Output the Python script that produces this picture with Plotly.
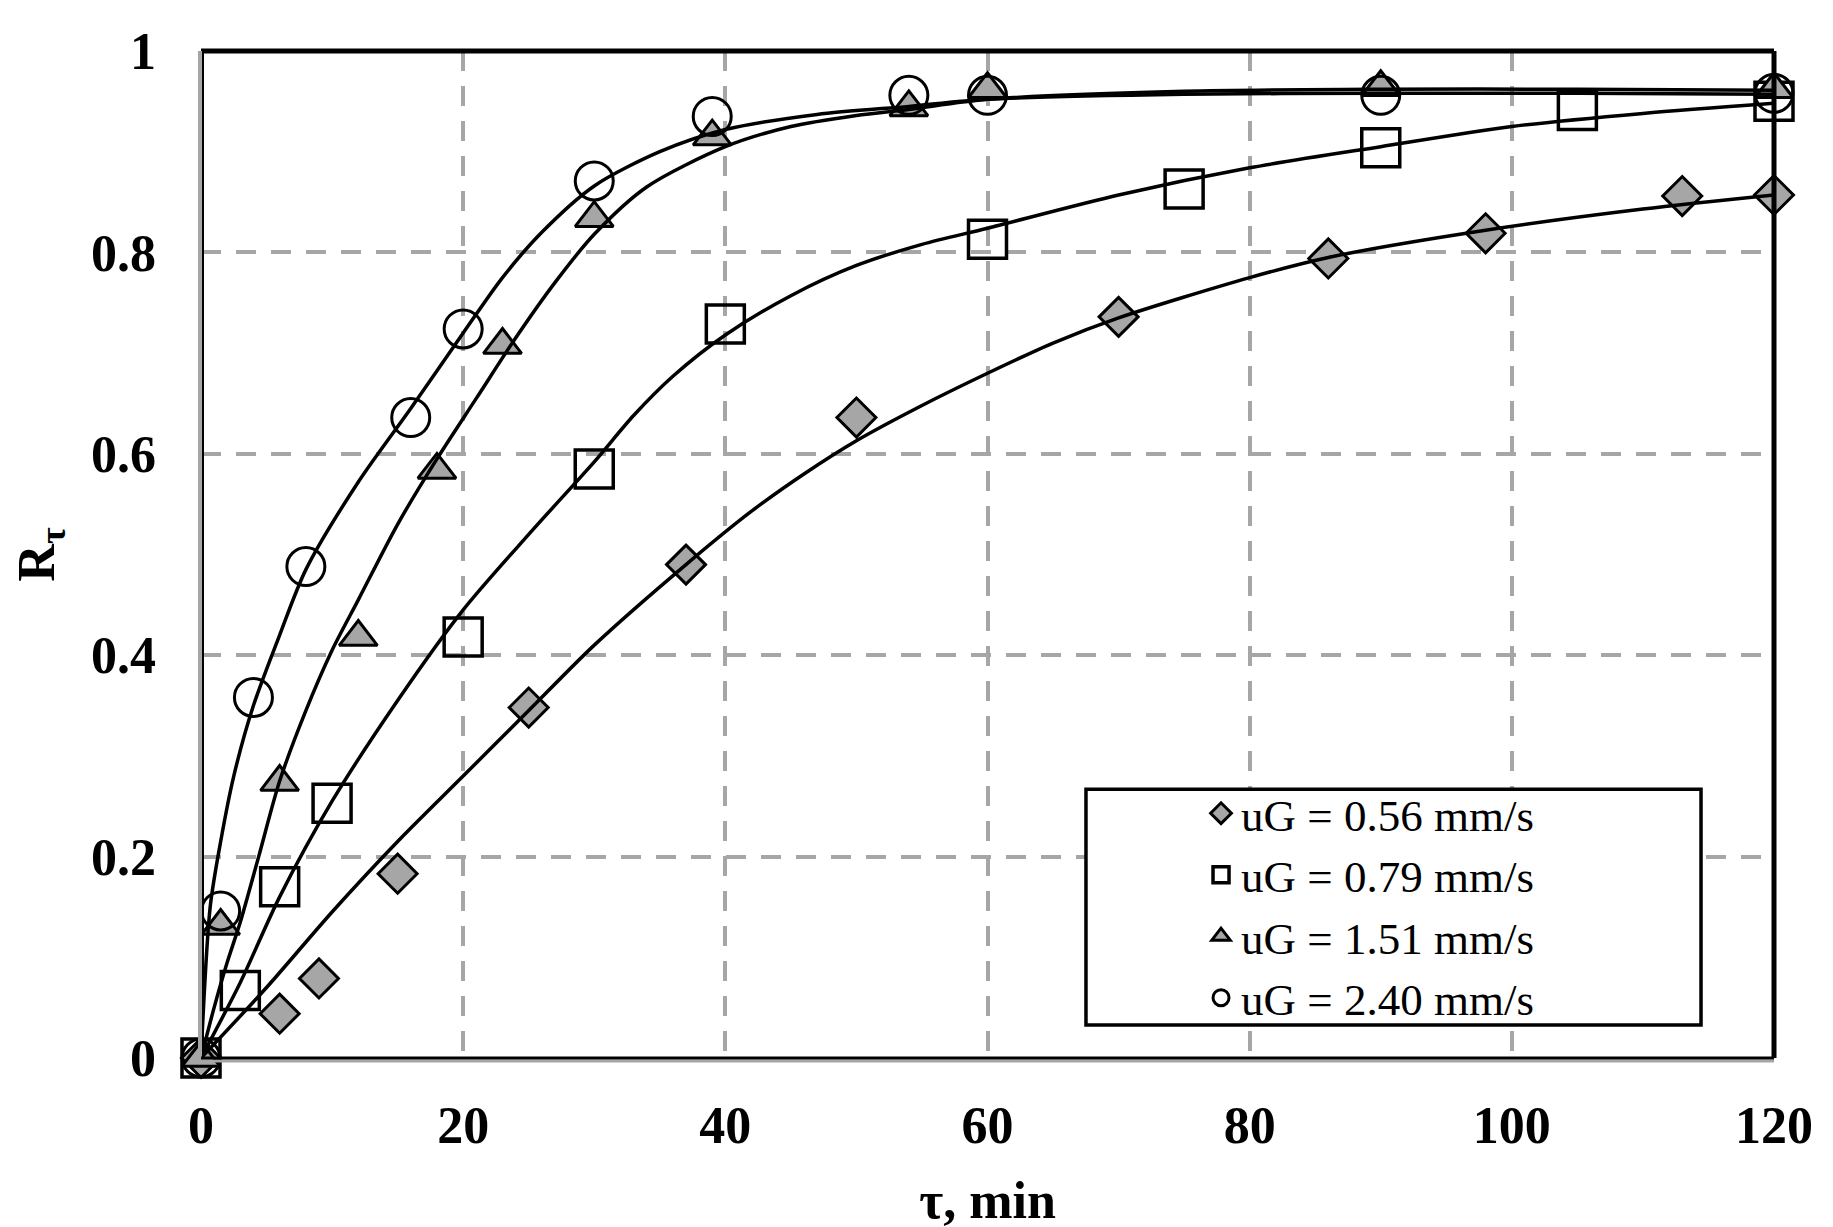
import plotly.graph_objects as go

# ---- measured points ----
t_056 = [0, 6, 9, 15, 25, 37, 50, 70, 86, 98, 113, 120]
r_056 = [0, 0.044, 0.079, 0.183, 0.348, 0.490, 0.636, 0.736, 0.794, 0.819, 0.856, 0.857]

t_079 = [0, 3, 6, 10, 20, 30, 40, 60, 75, 90, 105, 120]
r_079 = [0, 0.067, 0.170, 0.253, 0.418, 0.585, 0.729, 0.813, 0.863, 0.904, 0.941, 0.950]

t_151 = [0, 1.5, 6, 12, 18, 23, 30, 39, 54, 60, 90, 120]
r_151 = [0, 0.131, 0.274, 0.418, 0.584, 0.708, 0.834, 0.915, 0.944, 0.962, 0.964, 0.962]

t_240 = [0, 1.5, 4, 8, 16, 20, 30, 39, 54, 60, 90, 120]
r_240 = [0, 0.146, 0.358, 0.488, 0.636, 0.724, 0.871, 0.935, 0.956, 0.956, 0.956, 0.958]

# ---- fitted curves ----
ct_056 = [0, 5, 10, 15, 20, 25, 30, 37, 42, 46, 50, 55, 60, 65, 70, 80, 86, 98, 110, 120]
cr_056 = [0, 0.07, 0.145, 0.215, 0.28, 0.345, 0.41, 0.49, 0.543, 0.58, 0.613, 0.648, 0.68, 0.71, 0.735, 0.775, 0.795, 0.822, 0.843, 0.857]

ct_079 = [0, 3, 6, 10, 15, 20, 25, 30, 33, 36, 40, 45, 50, 55, 60, 70, 80, 90, 100, 110, 120]
cr_079 = [0, 0.075, 0.16, 0.255, 0.355, 0.445, 0.52, 0.592, 0.638, 0.677, 0.718, 0.757, 0.787, 0.808, 0.824, 0.857, 0.884, 0.905, 0.925, 0.938, 0.948]

ct_151 = [0, 1, 2, 3, 4.4, 6, 8, 10, 12, 15, 18, 21, 24, 27, 30, 34, 40, 45, 50, 54, 60, 75, 90, 105, 120]
cr_151 = [0, 0.05, 0.095, 0.135, 0.2, 0.275, 0.345, 0.405, 0.455, 0.53, 0.595, 0.655, 0.715, 0.77, 0.818, 0.865, 0.905, 0.925, 0.936, 0.942, 0.952, 0.96, 0.962, 0.962, 0.961]

ct_240 = [0, 0.7, 1.5, 2.5, 4, 6, 8, 12, 16, 20, 23, 26, 30, 35, 40, 47, 54, 60, 75, 90, 105, 120]
cr_240 = [0, 0.15, 0.215, 0.28, 0.35, 0.42, 0.485, 0.572, 0.645, 0.72, 0.775, 0.82, 0.866, 0.9, 0.922, 0.937, 0.945, 0.952, 0.957, 0.958, 0.958, 0.957]

labels = ["uG = 0.56 mm/s", "uG = 0.79 mm/s", "uG = 1.51 mm/s", "uG = 2.40 mm/s"]
x_ticks = [0, 20, 40, 60, 80, 100, 120]
y_ticks = [0, 0.2, 0.4, 0.6, 0.8, 1]

GRAY = "#a6a6a6"
FONT = "Liberation Serif"

fig = go.Figure()

marker_specs = [
    (t_056, r_056, dict(symbol="diamond", size=30, color=GRAY, line=dict(color="black", width=3))),
    (t_079, r_079, dict(symbol="square-open", size=38, color="black", line=dict(color="black", width=3.5))),
    (t_151, r_151, dict(symbol="triangle-up", size=33, color=GRAY, line=dict(color="black", width=3))),
    (t_240, r_240, dict(symbol="circle-open", size=38, color="black", line=dict(color="black", width=3))),
]
for (tx, ry, mk), name in zip(marker_specs, labels):
    fig.add_trace(go.Scatter(x=tx, y=ry, mode="markers", name=name, marker=mk,
                             cliponaxis=False))

for cx, cy in [(ct_056, cr_056), (ct_079, cr_079), (ct_151, cr_151), (ct_240, cr_240)]:
    fig.add_trace(go.Scatter(x=cx, y=cy, mode="lines", showlegend=False,
                             line=dict(color="black", width=3.5, shape="spline", smoothing=0.8),
                             cliponaxis=False))

axis_common = dict(
    showgrid=True, gridcolor=GRAY, gridwidth=3.5, griddash="20px,15px",
    zeroline=False, showline=False, ticks="",
    tickfont=dict(family=FONT, size=52, color="black", weight="bold"),
)

fig.update_xaxes(range=[0, 120], tickvals=x_ticks, ticklabelstandoff=32,
                 title=dict(text="<b>τ, min</b>", font=dict(family=FONT, size=52, color="black"),
                            standoff=28),
                 **axis_common)
fig.update_yaxes(range=[0, 1], tickvals=y_ticks, ticklabelstandoff=44,
                 title=dict(text="<b>R<sub>τ</sub></b>", font=dict(family=FONT, size=52, color="black"),
                            standoff=22),
                 **axis_common)

shapes = [
    # legend box
    dict(type="rect", xref="paper", yref="paper", x0=0.5626, x1=0.9536, y0=0.0328, y1=0.267,
         fillcolor="white", line=dict(color="black", width=3.5), layer="above"),
    # top and right thick black
    dict(type="line", xref="paper", yref="paper", x0=0, x1=1, y0=1, y1=1,
         line=dict(color="black", width=5)),
    dict(type="line", xref="paper", yref="paper", x0=1, x1=1, y0=0, y1=1,
         line=dict(color="black", width=5)),
    # left axis: gray with a black inner line
    dict(type="line", xref="paper", yref="paper", x0=0, x1=0, y0=0, y1=1,
         line=dict(color=GRAY, width=6)),
    dict(type="line", xref="paper", yref="paper", xsizemode="pixel", xanchor=0,
         x0=2, x1=2, y0=0, y1=1, line=dict(color="black", width=2)),
    # bottom axis: black with gray below
    dict(type="line", xref="paper", yref="paper", ysizemode="pixel", yanchor=0,
         x0=0, x1=1, y0=-3, y1=-3, line=dict(color=GRAY, width=3)),
    dict(type="line", xref="paper", yref="paper", x0=0, x1=1, y0=0, y1=0,
         line=dict(color="black", width=3)),
]

fig.update_layout(
    width=1833, height=1227,
    margin=dict(l=193, r=67, t=43, b=177),
    paper_bgcolor="white", plot_bgcolor="white",
    font=dict(family=FONT, color="black"),
    shapes=shapes,
    showlegend=True,
    legend=dict(x=0.5976, y=0.2786, xanchor="left", yanchor="top",
                bgcolor="rgba(0,0,0,0)", borderwidth=0,
                font=dict(family=FONT, size=45, color="black"),
                tracegroupgap=0, itemwidth=30, indentation=60),
)

fig.write_html("out.html")
